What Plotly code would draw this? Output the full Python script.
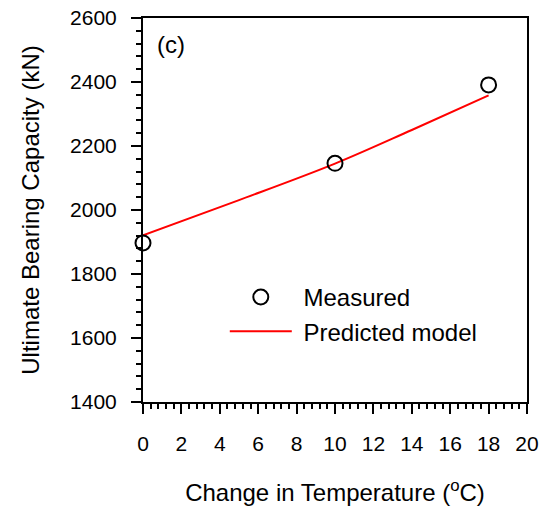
import plotly.graph_objects as go

# measured ultimate bearing capacity vs temperature change
temp_measured = [0, 10, 18]
cap_measured = [1897, 2146, 2391]

# predicted model curve
temp_model = [0, 5, 10, 14, 18]
cap_model = [1921, 2031, 2145, 2250, 2358]

font = "Liberation Sans, Arial, sans-serif"

fig = go.Figure()

# a non-breaking space nudges the legend text away from its symbol
fig.add_trace(go.Scatter(
    x=temp_model, y=cap_model, mode="lines", name="\u00a0Predicted model",
    line=dict(color="#ff0000", width=2), line_shape="spline",
))
fig.add_trace(go.Scatter(
    x=temp_measured, y=cap_measured, mode="markers", name="\u00a0Measured",
    marker=dict(symbol="circle-open", size=15, color="black", line=dict(width=2)),
    cliponaxis=False,
))

axis_common = dict(
    showgrid=False, zeroline=False, showline=True, linecolor="black", linewidth=2,
    mirror=True, ticks="outside", ticklen=10, tickwidth=2, tickcolor="black",
    tickfont=dict(family=font, size=21, color="black"), automargin=False,
    ticklabeloverflow="allow",
)

fig.update_xaxes(
    range=[0, 20], tick0=0, dtick=2, ticklabelstandoff=12,
    minor=dict(ticks="outside", ticklen=5, tickwidth=1.5, dtick=0.4, tickcolor="black"),
    title=dict(text="Change in Temperature (<sup>o</sup>C)",
               font=dict(family=font, size=24, color="black"), standoff=30),
    **axis_common,
)
fig.update_yaxes(
    range=[1400, 2600], tick0=1400, dtick=200, ticklabelstandoff=10,
    minor=dict(ticks="outside", ticklen=5, tickwidth=1.5, dtick=40, tickcolor="black"),
    title=dict(text="Ultimate Bearing Capacity (kN)",
               font=dict(family=font, size=24, color="black"), standoff=24),
    **axis_common,
)

fig.add_annotation(
    text="(c)", xref="paper", yref="paper", x=0.03, y=0.931,
    xanchor="left", yanchor="middle", showarrow=False,
    font=dict(family=font, size=24, color="black"),
)

fig.update_layout(
    width=546, height=512,
    margin=dict(l=143, r=19, t=18, b=110),
    paper_bgcolor="white", plot_bgcolor="white",
    showlegend=True,
    legend=dict(
        x=0.213, y=0.331, xanchor="left", yanchor="top",
        traceorder="reversed", itemwidth=62,
        font=dict(family=font, size=24, color="black"),
        bgcolor="rgba(0,0,0,0)",
    ),
)

# drop the default page margin so the figure sits at the window's corner
fig.write_html("out.html", config={"displayModeBar": False},
               post_script="document.body.style.margin='0';")
